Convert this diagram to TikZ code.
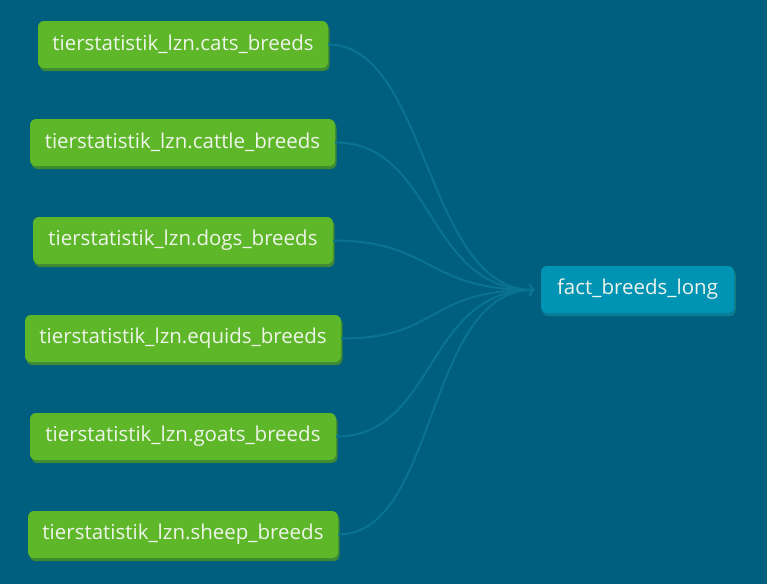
\documentclass[tikz,border=0pt]{standalone}
\usepackage{fontspec}
\setmainfont{Open Sans}
\usetikzlibrary{arrows.meta,shadows}
\definecolor{bgc}{HTML}{005F7E}
\definecolor{srcgreen}{HTML}{5EB729}
\definecolor{srcshadow}{HTML}{3E8A34}
\definecolor{tgtblue}{HTML}{0094B4}
\definecolor{tgtshadow}{HTML}{0B7C98}
\definecolor{edgec}{HTML}{0A7393}
\definecolor{txtc}{HTML}{EEF4EA}
\tikzset{
  srcnode/.style={fill=srcgreen, rounded corners=6pt, minimum height=47pt, inner xsep=0pt,
    text=txtc, font=\fontsize{20.5}{24}\selectfont,
    general shadow={fill=srcshadow, shadow xshift=1.5pt, shadow yshift=-3pt}},
  tgtnode/.style={srcnode, fill=tgtblue,
    general shadow={fill=tgtshadow, shadow xshift=1.5pt, shadow yshift=-3pt}},
  flow/.style={draw=edgec, line width=2pt, -{To[length=6pt,width=13pt]}}
}
\begin{document}
\begin{tikzpicture}[x=1pt,y=-1pt]
\fill[bgc] (0,0) rectangle (767,584);
\useasboundingbox (0,0) rectangle (767,584);
\node[srcnode, minimum width=290pt] (cats) at (183,44.5) {tierstatistik\_lzn.cats\_breeds};
\node[srcnode, minimum width=305pt] (cattle) at (182.5,142.5) {tierstatistik\_lzn.cattle\_breeds};
\node[srcnode, minimum width=300pt] (dogs) at (183,240.5) {tierstatistik\_lzn.dogs\_breeds};
\node[srcnode, minimum width=316pt] (equids) at (183,338.5) {tierstatistik\_lzn.equids\_breeds};
\node[srcnode, minimum width=306pt] (goats) at (183,436.5) {tierstatistik\_lzn.goats\_breeds};
\node[srcnode, minimum width=310pt] (sheep) at (183,534.5) {tierstatistik\_lzn.sheep\_breeds};
\node[tgtnode, minimum width=193pt] (fact) at (637.5,289.5) {fact\_breeds\_long};
\coordinate (tip) at (535,290);
\foreach \n in {cats,cattle,dogs,equids,goats,sheep}{
  \draw[flow] (\n.east) .. controls +(100,0) and +(-110,0) .. (tip);
}
\end{tikzpicture}
\end{document}
